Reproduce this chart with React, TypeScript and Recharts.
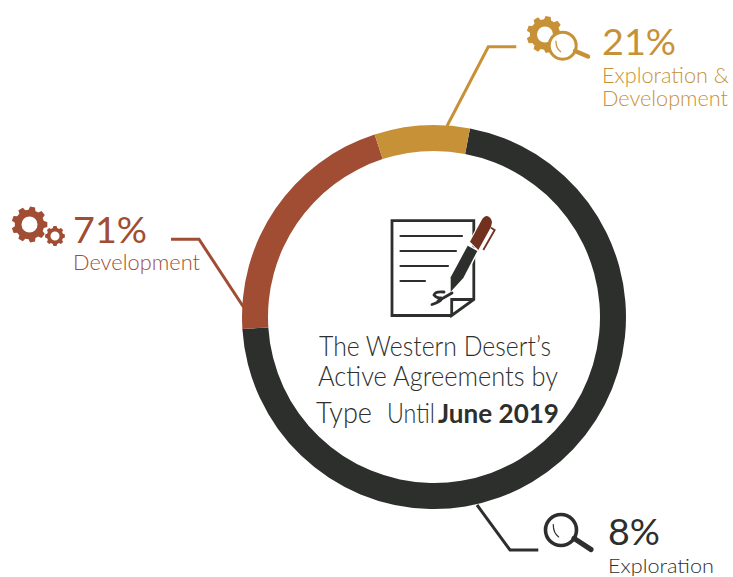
import { PieChart, Pie, Cell } from "recharts";

const sliceNames = ["Dark arc", "Brown arc", "Gold arc"];
const sliceValues = [71, 21, 8];
const sliceColors = ["#2d2f2d", "#a04d33", "#c79137"];

const DARK = "#2d2f2d";
const BROWN = "#a04d33";
const GOLD = "#c79137";
const FONT = "Lato, 'Noto Sans', sans-serif";

const data = sliceNames.map((name, i) => ({ name, value: sliceValues[i] }));

function gearPath(cx: number, cy: number, r: number, hole: number, teeth: number) {
  const pts: string[] = [];
  const step = (Math.PI * 2) / teeth;
  for (let i = 0; i < teeth; i++) {
    const a = i * step;
    const offs: [number, number][] = [
      [-0.34, r * 0.82],
      [-0.2, r],
      [0.2, r],
      [0.34, r * 0.82],
    ];
    for (const [o, rad] of offs) {
      const t = a + o * step;
      pts.push(`${cx + rad * Math.cos(t)} ${cy + rad * Math.sin(t)}`);
    }
  }
  return (
    `M${pts.join("L")}Z ` +
    `M${cx - hole} ${cy}a${hole} ${hole} 0 1 0 ${hole * 2} 0a${hole} ${hole} 0 1 0 ${-hole * 2} 0Z`
  );
}

const Gear = ({ x, y, r, hole, teeth, fill }: any) => (
  <path d={gearPath(x, y, r, hole, teeth)} fill={fill} fillRule="evenodd" />
);

const Magnifier = ({ x, y, r, w, hx, hy, color }: any) => {
  const len = Math.hypot(hx - x, hy - y);
  const sx = x + ((hx - x) / len) * r;
  const sy = y + ((hy - y) / len) * r;
  return (
    <g fill="none" stroke={color} strokeLinecap="round">
      <circle cx={x} cy={y} r={r} strokeWidth={w} fill="#fff" />
      <path d={`M${sx} ${sy}L${hx} ${hy}`} strokeWidth={w + 1.5} />
      <path
        d={`M${x - r * 0.5} ${y - r * 0.35}Q${x - r * 0.5} ${y + r * 0.2} ${x - r * 0.15} ${y + r * 0.45}`}
        strokeWidth={1.2}
      />
    </g>
  );
};

const Label = ({ x, y, size, color, len, weight = 300, children }: any) => (
  <text
    x={x}
    y={y}
    fontSize={size}
    fontFamily={FONT}
    fontWeight={weight}
    fill={color}
    textLength={len}
    lengthAdjust="spacingAndGlyphs"
  >
    {children}
  </text>
);

const DocIcon = () => (
  <g>
    <path d="M451.7 315.5H392V220.7H473.8V299.5L451.7 315.5V299.5H473.8" fill="none" stroke={DARK} strokeWidth={2.8} />
    <g stroke={DARK} strokeWidth={2.2} strokeLinecap="round">
      <path d="M400.5 236H462" />
      <path d="M400.5 251H456" />
      <path d="M400.5 266H448" />
      <path d="M400.5 281H425" />
    </g>
    <path d="M450.7 291.7L450.7 277.3L467.7 245.7L477.3 251L463.3 278Z" fill={DARK} stroke="#fff" strokeWidth={3} paintOrder="stroke" />
    <path
      d="M470 241.7L481.7 220Q484 216 487 216Q491 217 492 222L491 227L478.3 250Z"
      fill="#72301f"
      stroke="#fff"
      strokeWidth={2}
      paintOrder="stroke"
    />
    <path d="M491 227.7L494.7 230L483.3 250" fill="none" stroke="#72301f" strokeWidth={1.8} />
    <path
      d="M444 292Q435 291 434 295Q436 298 441 298Q444 300 432 304.5M438 301L452 293"
      fill="none"
      stroke={DARK}
      strokeWidth={2.8}
      strokeLinecap="round"
    />
  </g>
);

export default function App() {
  return (
    <div style={{ position: "absolute", left: 0, top: 0, width: 733, height: 577, background: "#fff" }}>
      <PieChart width={733} height={577} margin={{ top: 0, right: 0, bottom: 0, left: 0 }}>
        <Pie
          data={data}
          dataKey="value"
          cx={434}
          cy={317}
          innerRadius={166}
          outerRadius={192}
          startAngle={79.2}
          endAngle={-280.8}
          stroke="none"
          isAnimationActive={false}
        >
          {data.map((d, i) => (
            <Cell key={d.name} fill={sliceColors[i]} />
          ))}
        </Pie>

        {/* leader lines */}
        <g fill="none" strokeWidth={3}>
          <path d="M171 239.3H199L243.5 307" stroke={BROWN} />
          <path d="M516.3 46.7H488.3L447 126" stroke={GOLD} />
          <path d="M477 505L510 550H538.3" stroke={DARK} />
        </g>

        <Gear x={29.5} y={224.5} r={18} hole={8} teeth={9} fill={BROWN} />
        <Gear x={55} y={236} r={10} hole={4.5} teeth={8} fill={BROWN} />
        <Gear x={545} y={34.5} r={18.5} hole={8} teeth={9} fill={GOLD} />
        <Magnifier x={562.7} y={45.7} r={13.5} w={3} hx={588} hy={56.5} color={GOLD} />
        <Magnifier x={561} y={530} r={15.5} w={3.6} hx={591} hy={549.5} color={DARK} />

        <Label x={73} y={243} size={37} color={BROWN} len={74} weight={400}>71%</Label>
        <Label x={73} y={270} size={21.5} color={BROWN} len={127}>Development</Label>
        <Label x={602} y={55} size={37} color={GOLD} len={74} weight={400}>21%</Label>
        <Label x={602} y={83} size={21} color={GOLD} len={127}>Exploration &amp;</Label>
        <Label x={602} y={105.5} size={21} color={GOLD} len={126}>Development</Label>
        <Label x={608} y={545} size={37} color={DARK} len={52} weight={400}>8%</Label>
        <Label x={608} y={572.5} size={20} color={DARK} len={106}>Exploration</Label>

        <DocIcon />

        <Label x={319} y={355.7} size={27} color={DARK} len={232}>The Western Desert’s</Label>
        <Label x={318} y={386} size={27} color={DARK} len={240}>Active Agreements by</Label>
        <Label x={316} y={423} size={30} color={DARK} len={56}>Type</Label>
        <Label x={387} y={423} size={27} color={DARK} len={48}>Until</Label>
        <Label x={438} y={423} size={27} color={DARK} len={121} weight={700}>June 2019</Label>
      </PieChart>
    </div>
  );
}
